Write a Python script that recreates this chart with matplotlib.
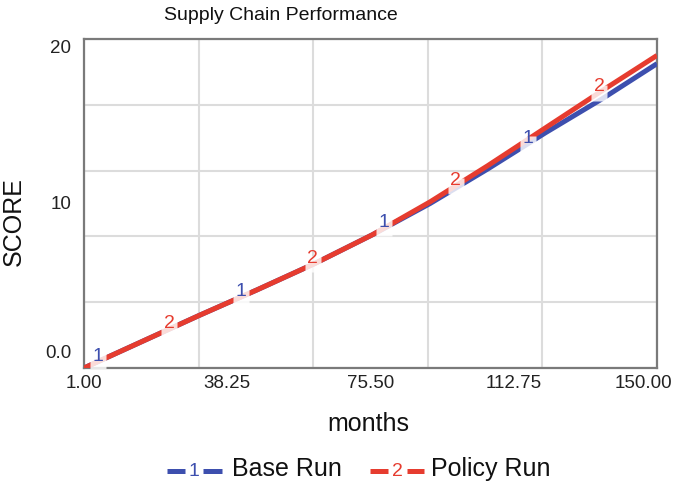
import matplotlib.pyplot as plt
from matplotlib.lines import Line2D
import numpy as np

plt.rcParams['font.family'] = ['Liberation Sans', 'DejaVu Sans']

# data
months = [1, 16, 31, 46, 61, 76, 91, 106, 121, 136, 150]
base_run = [0, 1.6, 3.2, 4.75, 6.35, 8.1, 10.0, 12.1, 14.3, 16.4, 18.5]
policy_run = [0, 1.6, 3.2, 4.75, 6.35, 8.1, 10.1, 12.3, 14.6, 16.9, 19.0]

# where the run numbers sit on the lines
base_label_months = [4.6, 41.85, 79.1, 116.35]
policy_label_months = [23.2, 60.5, 97.7, 135.0]

x_tick_values = [1.00, 38.25, 75.50, 112.75, 150.00]
y_tick_values = [0, 10, 20]
y_tick_labels = ['0.0', '10', '20']

blue = '#3d4fae'
red = '#e63c2f'


def draw_chart():
    fig = plt.figure(figsize=(6.85, 4.9), dpi=100)
    ax = fig.add_axes([0.1226, 0.249, 0.8365, 0.6714])

    ax.set_xlim(months[0], months[-1])
    ax.set_ylim(0, 20)

    # grid on fifths, labels on quarters (Vensim style)
    ax.set_xticks(np.linspace(months[0], months[-1], 6))
    ax.set_xticklabels([])
    ax.set_yticks(np.linspace(0, 20, 6))
    ax.set_yticklabels([])
    ax.grid(True, color='#dcdcdc', lw=1.5)
    ax.tick_params(which='both', length=0)

    for val in x_tick_values:
        last = val == x_tick_values[-1]
        ax.annotate(f'{val:.2f}', xy=(val, 0), xycoords=('data', 'axes fraction'),
                    xytext=(11 if last else 0, -5), textcoords='offset points',
                    ha='right' if last else 'center', va='top', fontsize=13.5,
                    color='#222222', annotation_clip=False)

    for val, lab in zip(y_tick_values, y_tick_labels):
        va = {0: 'bottom', 10: 'center', 20: 'top'}[val]
        dy = {0: 4, 10: -1, 20: -1}[val]
        ax.annotate(lab, xy=(0, val), xycoords=('axes fraction', 'data'),
                    xytext=(-9, dy), textcoords='offset points',
                    ha='right', va=va, fontsize=13.5, color='#222222', annotation_clip=False)

    for sp in ax.spines.values():
        sp.set_color('#7a7a7a')
        sp.set_linewidth(1.6)

    ax.plot(months, base_run, color=blue, lw=3.6, solid_capstyle='butt', zorder=3)
    ax.plot(months, policy_run, color=red, lw=3.6, solid_capstyle='butt', zorder=4)

    # run number markers with a pale box over the line
    for lm, vals, num, col in [(base_label_months, base_run, '1', blue),
                               (policy_label_months, policy_run, '2', red)]:
        ys = np.interp(lm, months, vals)
        ax.plot(lm, ys, 's', ms=11, color='white', alpha=0.82, mec='none', zorder=5)
        for x, y in zip(lm, ys):
            ax.annotate(num, xy=(x, y), xytext=(0, 4), textcoords='offset points',
                        ha='center', va='center', fontsize=14, color=col, zorder=6)

    fig.text(281 / 685, 1 - 15 / 490, 'Supply Chain Performance', ha='center', va='center',
             fontsize=14, color='#111111')
    fig.text(368 / 685, 1 - 424 / 490, 'months', ha='center', va='center', fontsize=18, color='#111111')
    fig.text(14 / 685, 1 - 222 / 490, 'SCORE', ha='center', va='center', rotation=90,
             fontsize=18, color='#111111')

    # legend below the chart
    ly = 1 - 471 / 490
    for (a, b, c, d), num, col, txt, tx in [((167, 185, 203, 222), '1', blue, 'Base Run', 232),
                                            ((370, 388, 407, 424), '2', red, 'Policy Run', 431)]:
        fig.add_artist(Line2D([a / 685, b / 685], [ly, ly], color=col, lw=3.6, solid_capstyle='butt'))
        fig.add_artist(Line2D([c / 685, d / 685], [ly, ly], color=col, lw=3.6, solid_capstyle='butt'))
        fig.text((b + c) / 2 / 685, ly, num, ha='center', va='center', fontsize=14, color=col)
        fig.text(tx / 685, ly + 0.004, txt, ha='left', va='center', fontsize=18, color='#111111')

    plt.savefig('out.png', dpi=100)


if __name__ == '__main__':
    draw_chart()
